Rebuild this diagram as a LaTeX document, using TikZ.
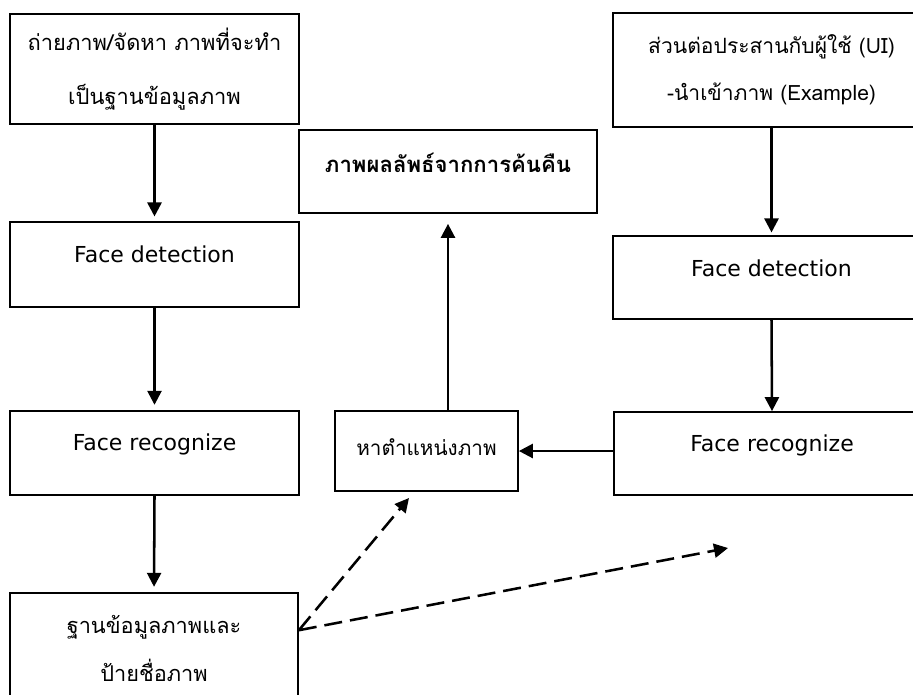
\documentclass[tikz,border=0pt]{standalone}
\usepackage{fontspec}
\setmainfont{DejaVu Sans}
\newfontfamily\thai[Script=Thai]{Loma}
\usetikzlibrary{arrows.meta}

\tikzset{
  box/.style={draw, line width=1.3pt, inner sep=0pt, align=center},
  onebox/.style 2 args={box, text height=#1, text depth=#2},
  flow/.style={line width=1.9pt, -{Triangle[length=10.5pt,width=10.5pt]}},
  dflow/.style={flow, dash pattern=on 13.5pt off 6pt},
  eng/.style={font=\fontsize{16.5}{19}\selectfont},
}

\begin{document}
\begin{tikzpicture}[x=0.75pt, y=-0.75pt]
  \useasboundingbox (0,0) rectangle (913,694);

  % left column: building the database
  \node[box, minimum width=216.75pt, minimum height=82.5pt,
        font=\thai\fontsize{16.4}{40.5}\selectfont] (lsrc) at (154.5,69)
        {ถ่ายภาพ/จัดหา ภาพที่จะทำ\\เป็นฐานข้อมูลภาพ};
  \node[onebox={30pt}{33.75pt}, minimum width=216.75pt, eng] (ldet) at (154.5,264.5) {Face detection};
  \node[onebox={29.25pt}{33.75pt}, minimum width=216.75pt, eng] (lrec) at (154.5,453) {Face recognize};
  \node[box, minimum width=216pt, minimum height=82.5pt,
        font=\thai\fontsize{16.3}{36}\selectfont] (ldb) at (154,648)
        {ฐานข้อมูลภาพและ\\ป้ายชื่อภาพ};

  % middle: search and result
  \node[onebox={31.5pt}{30.75pt}, minimum width=223.5pt,
        font=\thai\bfseries\fontsize{16.6}{18}\selectfont] (res) at (448,171.5) {ภาพผลลัพธ์จากการค้นคืน};
  \node[onebox={33pt}{27pt}, minimum width=137.25pt,
        font=\thai\fontsize{15.5}{18}\selectfont] (find) at (426.5,451) {หาตำแหน่งภาพ};

  % right column: query image
  \node[box, minimum width=237.75pt, minimum height=85.5pt,
        font=\thai\fontsize{15.8}{35.25}\selectfont] (rsrc) at (771.5,70)
        {ส่วนต่อประสานกับผู้ใช้ (UI)\\-นำเข้าภาพ (Example)};
  \node[onebox={30pt}{32.25pt}, minimum width=237.75pt, eng] (rdet) at (771.5,277.5) {Face detection};
  \node[onebox={29.25pt}{33pt}, minimum width=237pt, eng] (rrec) at (772,453.5) {Face recognize};

  \coordinate (tipa) at (409,498);
  \coordinate (tipb) at (728,548);

  \draw[flow, shorten >=3.5pt] (lsrc.south) -- (ldet.north);
  \draw[flow, shorten >=4pt] (ldet.south) -- (lrec.north);
  \draw[flow, shorten >=4pt] (lrec.south) -- (ldb.north);
  \draw[flow, shorten >=2pt] (rsrc.south) -- (rdet.north);
  \draw[flow] (rdet.south) -- (rrec.north);
  \draw[flow] (rrec.west |- find.east) -- (find.east);
  \draw[flow, shorten >=7.5pt] (find.north -| res.south) -- (res.south);
  \draw[dflow] (ldb.7) -- (tipa);
  \draw[dflow] (ldb.7) -- (tipb);
\end{tikzpicture}
\end{document}
